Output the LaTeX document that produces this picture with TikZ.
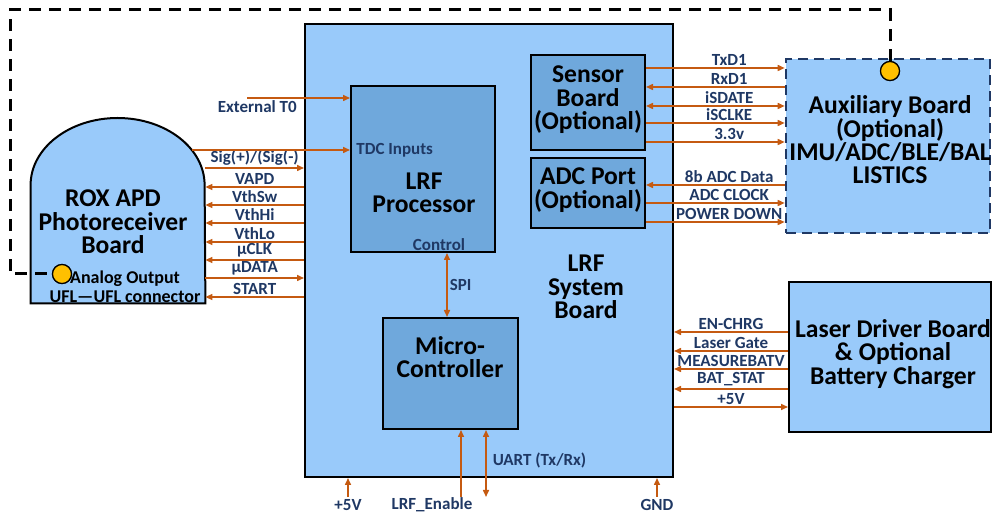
\documentclass[tikz,border=0pt]{standalone}
\usepackage{fontspec}
\setmainfont{Carlito}
\usepackage{tikz}
\usetikzlibrary{arrows.meta, positioning, calc}

\definecolor{boardblue}{RGB}{153,202,250}
\definecolor{chipblue}{RGB}{111,168,220}
\definecolor{wire}{RGB}{197,90,17}
\definecolor{sigtext}{RGB}{31,56,100}
\definecolor{auxedge}{RGB}{31,56,100}
\definecolor{jackyellow}{RGB}{255,192,0}

\begin{document}
\begin{tikzpicture}[
    x=0.5pt, y=-0.5pt,
    board/.style={draw, line width=1pt, fill=boardblue, inner sep=0pt},
    chip/.style={draw, line width=1pt, fill=chipblue, inner sep=0pt},
    optbox/.style={draw=auxedge, line width=1.3pt, dash pattern=on 5pt off 3pt, fill=boardblue, inner sep=0pt},
    title/.style={font=\fontsize{12.8}{11.7}\selectfont\bfseries, align=center},
    note/.style={font=\fontsize{9}{9}\selectfont\bfseries, inner sep=0pt},
    lbl/.style={font=\fontsize{8.5}{9}\selectfont\bfseries, text=sigtext, inner sep=1pt},
    sig/.style={draw=wire, line width=0.75pt},
    tipend/.style={-{Triangle[length=3.5pt,width=3pt]}},
    tipstart/.style={{Triangle[length=3.5pt,width=3pt]}-},
    tipboth/.style={{Triangle[length=3.5pt,width=3pt]}-{Triangle[length=3.5pt,width=3pt]}},
    link/.style={line width=1.5pt, dash pattern=on 6pt off 4pt},
    jack/.style={circle, draw, line width=0.6pt, fill=jackyellow, minimum size=9.5pt, inner sep=0pt},
]
    \useasboundingbox (0,0) rectangle (995,512);

    % boards
    \node[board, minimum width=184pt, minimum height=226.5pt] (lrf) at (489,250.5) {};
    \node[chip, minimum width=72pt, minimum height=83pt] (proc) at (423,169) {};
    \node[chip, minimum width=57pt, minimum height=47.5pt] (sensor) at (588,102.5) {};
    \node[chip, minimum width=57pt, minimum height=35pt] (adc) at (588,193) {};
    \node[chip, minimum width=67.5pt, minimum height=55.5pt] (mcu) at (450.5,373.5) {};
    \node[optbox, minimum width=102pt, minimum height=87pt] (aux) at (888,146) {};
    \node[board, minimum width=101pt, minimum height=75pt] (laser) at (890,357) {};

    % photoreceiver (dome)
    \node[minimum width=87pt, minimum height=92.5pt, inner sep=0pt] (apd) at (118,210.5) {};
    \draw[line width=1pt, fill=boardblue] (apd.south west) -- (apd.west |- 0,185)
        arc[start angle=180, end angle=0, x radius=43.5pt, y radius=33.5pt]
        -- (apd.south east) -- cycle;

    % titles
    \node[title] (lrftxt) at (586,287) {LRF\\System\\Board};
    \node[title] (proctxt) at (424,193) {LRF\\Processor};
    \node[title] (sensortxt) at (588,100) {Sensor\\Board\\(Optional)};
    \node[title] (adctxt) at (588,190) {ADC Port\\(Optional)};
    \node[title] (mcutxt) at (450,357) {Micro-\\Controller};
    \node[title] (auxtxt) at (890,140) {Auxiliary Board\\(Optional)\\IMU/ADC/BLE/BAL\\LISTICS};
    \node[title] (lasertxt) at (893,354) {Laser Driver Board\\\& Optional\\Battery Charger};
    \node[title] (apdtxt) at (113,222) {ROX APD\\Photoreceiver\\Board};
    \node[note] (analog) at (125,279) {Analog Output};
    \node[note] (ufl) at (125,297) {UFL---UFL connector};

    % photoreceiver signals
    \foreach \y/\txt/\tip in {168/{Sig(+)/(Sig(-)}/tipend, 187/VAPD/tipstart, 205/VthSw/tipstart,
        223/VthHi/tipstart, 242/VthLo/tipstart, 260/µCLK/tipstart, 278/µDATA/tipend, 297/START/tipstart}
        \draw[sig,\tip] (apd.east |- 0,\y) -- (lrf.west |- 0,\y) node[lbl,midway,above] {\txt};

    \coordinate (ext) at (247,98);
    \draw[sig,tipend] (ext) -- (proc.west |- ext) node[lbl,pos=0.1,below] {External T0};
    \coordinate (tdc) at (192,150);
    \draw[sig,tipend] (tdc) -- (proc.west |- tdc);
    \node[lbl, anchor=west, xshift=2pt] at (proc.west |- tdc) {TDC Inputs};
    \node[lbl, above=0pt of proc.south, xshift=8pt] (ctrl) {Control};

    % sensor and adc lines
    \foreach \y/\txt/\tip in {68/TxD1/tipend, 87/RxD1/tipstart, 106/iSDATE/tipboth, 123/iSCLKE/tipend, 142/3.3v/tipend}
        \draw[sig,\tip] (sensor.east |- 0,\y) -- (aux.west |- 0,\y) node[lbl,pos=0.6,above] {\txt};
    \foreach \y/\txt/\tip in {185/8b ADC Data/tipstart, 203/ADC CLOCK/tipend, 222/POWER DOWN/tipend}
        \draw[sig,\tip] (adc.east |- 0,\y) -- (aux.west |- 0,\y) node[lbl,pos=0.6,above] {\txt};

    % laser driver lines
    \foreach \y/\txt/\tip in {332/EN-CHRG/tipstart, 351/Laser Gate/tipstart, 369/MEASUREBATV/tipstart,
        389/BAT\_STAT/tipstart, 407/+5V/tipend}
        \draw[sig,\tip] (lrf.east |- 0,\y) -- (laser.west |- 0,\y) node[lbl,midway,above] {\txt};

    % spi and bottom pins
    \coordinate (spi) at (447,0);
    \draw[sig,tipboth] (proc.south -| spi) -- (mcu.north -| spi) node[lbl,midway,right] {SPI};
    \node[lbl] (vin) at (348,505) {+5V};
    \node[lbl] (enable) at (432,505) {LRF\_Enable};
    \node[lbl] (gnd) at (657,505) {GND};
    \draw[sig,tipend] (vin.north) -- (lrf.south -| vin.north);
    \draw[sig,tipend] (gnd.north) -- (lrf.south -| gnd.north);
    \coordinate (en) at (461,497);
    \draw[sig,tipend] (en) -- (mcu.south -| en);
    \coordinate (uart) at (486,497);
    \draw[sig,tipboth] (uart) -- (mcu.south -| uart) node[lbl,pos=0.54,right,xshift=2pt] {UART (Tx/Rx)};

    % analog output link
    \node[jack] (auxjack) at (890,71) {};
    \node[jack] (apdjack) at (62,274) {};
    \coordinate (corner) at (10,10);
    \draw[link] (auxjack) |- (corner) |- (apdjack);
    \node[jack] at (auxjack) {};
    \node[jack] at (apdjack) {};
\end{tikzpicture}
\end{document}
